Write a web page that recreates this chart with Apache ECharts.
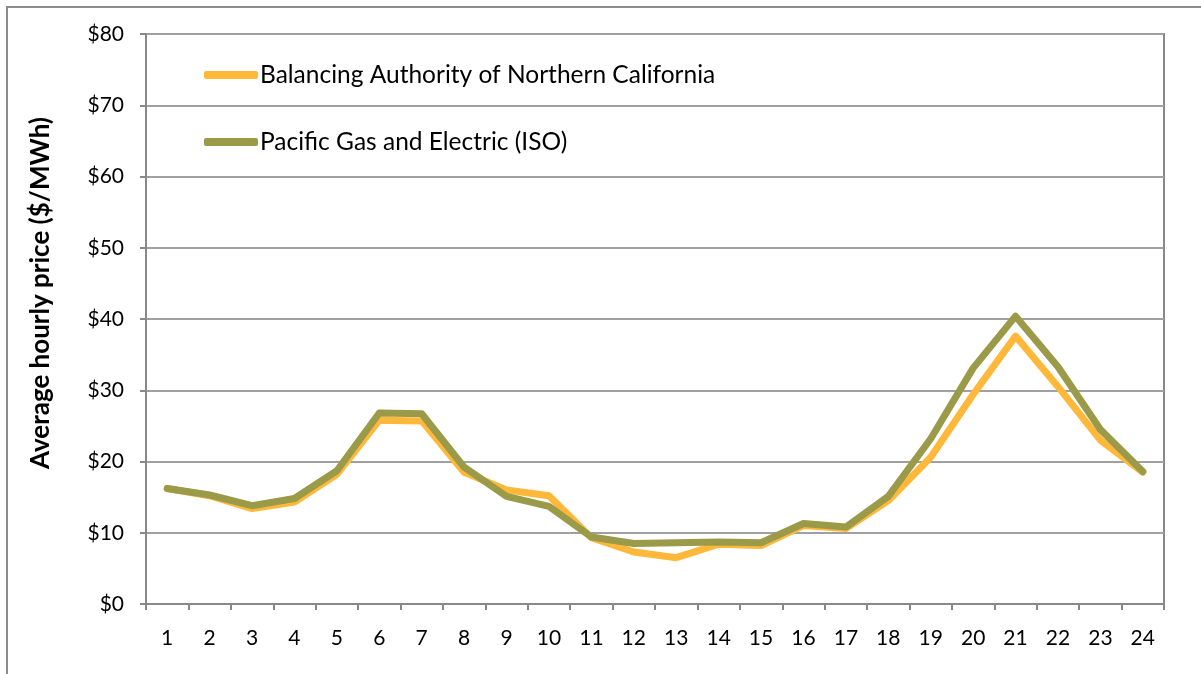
<!DOCTYPE html>
<html>
<head>
<meta charset="utf-8">
<script src="https://cdn.jsdelivr.net/npm/echarts@6/dist/echarts.min.js"></script>
<style>
    html, body { margin: 0; padding: 0; background: #fff; }
    #chart { width: 1201px; height: 674px; }
</style>
</head>
<body>
<div id="chart"></div>
<script>
// 小时 1-24
const hours = ['1', '2', '3', '4', '5', '6', '7', '8', '9', '10', '11', '12',
    '13', '14', '15', '16', '17', '18', '19', '20', '21', '22', '23', '24'];

const bancName = 'Balancing Authority of Northern California';
const bancPrices = [16.2, 15.2, 13.4, 14.3, 18.2, 25.8, 25.7, 18.5, 16.0, 15.2, 9.3, 7.3,
    6.5, 8.4, 8.2, 11.0, 10.6, 14.5, 20.6, 29.4, 37.6, 30.5, 23.0, 18.5];

const pgeName = 'Pacific Gas and Electric (ISO)';
const pgePrices = [16.2, 15.3, 13.8, 14.8, 18.7, 26.8, 26.7, 19.2, 15.1, 13.7, 9.4, 8.5,
    8.6, 8.7, 8.6, 11.3, 10.8, 15.1, 23.2, 33.1, 40.4, 33.3, 24.5, 18.6];

const yTicks = { min: 0, max: 80, interval: 10 };

const font = 'Lato, "Open Sans", sans-serif';

const myChart = echarts.init(document.getElementById('chart'));

const option = {
    animation: false,
    backgroundColor: '#fff',
    graphic: [
        {
            type: 'rect',
            shape: { x: 7, y: 7, width: 1400, height: 1000 },
            style: { fill: 'none', stroke: '#8c8c8c', lineWidth: 2 },
            silent: true
        }
    ],
    grid: {
        left: 146,
        top: 34,
        right: 37,
        bottom: 70,
        show: true,
        borderColor: '#888',
        borderWidth: 2
    },
    legend: {
        orient: 'vertical',
        left: 199,
        top: 56,
        icon: 'roundRect',
        itemWidth: 54,
        itemHeight: 8,
        itemGap: 39,
        textStyle: { fontFamily: font, fontSize: 24.5, color: '#000', lineHeight: 28, padding: [0, 0, 0, -3] },
        data: [bancName, pgeName]
    },
    xAxis: {
        type: 'category',
        data: hours,
        boundaryGap: true,
        axisLine: { lineStyle: { color: '#888', width: 2 } },
        axisTick: { show: true, length: 6, lineStyle: { color: '#888', width: 2 } },
        axisLabel: { fontFamily: font, fontSize: 21, color: '#000', margin: 24 }
    },
    yAxis: {
        type: 'value',
        min: yTicks.min,
        max: yTicks.max,
        interval: yTicks.interval,
        name: 'Average hourly price ($/MWh)',
        nameLocation: 'middle',
        nameGap: 92,
        nameTextStyle: {
            fontFamily: font, fontSize: 26, fontWeight: 'bold', color: '#000',
            padding: [0, 0, 0, 52]
        },
        axisLine: { show: true, lineStyle: { color: '#888', width: 2 } },
        axisTick: { show: true, length: 6, lineStyle: { color: '#888', width: 2 } },
        axisLabel: {
            fontFamily: font, fontSize: 21, color: '#000', margin: 22,
            formatter: v => '$' + v
        },
        splitLine: { lineStyle: { color: '#a0a0a0', width: 2 } }
    },
    series: [
        {
            name: bancName,
            type: 'line',
            data: bancPrices,
            symbol: 'none',
            color: '#ffb83a',
            lineStyle: { width: 7, color: '#ffb83a', cap: 'round', join: 'round' }
        },
        {
            name: pgeName,
            type: 'line',
            data: pgePrices,
            symbol: 'none',
            color: '#9a9a48',
            lineStyle: { width: 7, color: '#9a9a48', cap: 'round', join: 'round' }
        }
    ]
};

myChart.setOption(option);
</script>
</body>
</html>
